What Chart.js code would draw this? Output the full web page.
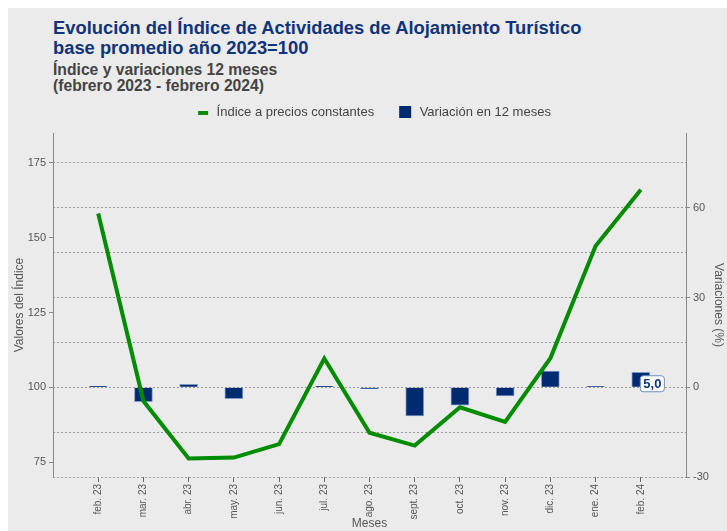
<!DOCTYPE html>
<html lang="es">
<head>
<meta charset="utf-8">
<title>Índice de Actividades de Alojamiento Turístico</title>
<script src="https://cdn.jsdelivr.net/npm/chart.js@4.4.1/dist/chart.umd.min.js"></script>
<style>
  html, body { margin: 0; padding: 0; background: #fff; }
  body { width: 727px; height: 531px; overflow: hidden; position: relative; }
  .panel {
    position: absolute; left: 8px; top: 8px; width: 719px; height: 523px;
    background: #ebebeb; font-family: "Liberation Sans", Arial, sans-serif;
  }
  .titulo {
    position: absolute; left: 45px; top: 10px; margin: 0;
    font-size: 18.35px; line-height: 20px; font-weight: bold; color: #0f3479;
  }
  .subtitulo {
    position: absolute; left: 45px; top: 54px; margin: 0;
    font-size: 15.7px; line-height: 16px; font-weight: bold; color: #444;
  }
  .grafico { position: absolute; left: 0; top: 85px; width: 719px; height: 438px; }
</style>
</head>
<body>
<div class="panel">
  <h1 class="titulo">Evolución del Índice de Actividades de Alojamiento Turístico<br>base promedio año 2023=100</h1>
  <h2 class="subtitulo">Índice y variaciones 12 meses<br>(febrero 2023 - febrero 2024)</h2>
  <div class="grafico"><canvas id="grafico"></canvas></div>
</div>

<script>
// datos
const meses = ['feb. 23', 'mar. 23', 'abr. 23', 'may. 23', 'jun. 23', 'jul. 23', 'ago. 23',
               'sept. 23', 'oct. 23', 'nov. 23', 'dic. 23', 'ene. 24', 'feb. 24'];
const indice = [158.1, 95.4, 76.2, 76.5, 81.0, 109.6, 84.8, 80.5, 93.3, 88.4, 109.7, 147.2, 166.0];
const variacion = [0.4, -4.8, 1.0, -3.8, 0.0, 0.4, -0.5, -9.6, -6.0, -2.9, 5.4, 0.3, 5.0];

const ticksIndice = [75, 100, 125, 150, 175];
const ticksVariacion = [-30, -15, 0, 15, 30, 45, 60, 75];

const VERDE = '#008c00';
const AZUL = '#002b70';
const FUENTE = '"Liberation Sans", Arial, sans-serif';

// iconos de la leyenda
function icono(x, y, w, h, color) {
  const c = document.createElement('canvas');
  c.width = 26; c.height = 13;
  const g = c.getContext('2d');
  g.fillStyle = color;
  g.fillRect(x, y, w, h);
  return c;
}
const iconos = [icono(14, 5, 10, 4, VERDE), icono(12, 0, 12, 12, AZUL)];

// recuadro con el valor del ultimo mes
const etiquetaFinal = {
  id: 'etiquetaFinal',
  afterDatasetsDraw(chart) {
    const i = variacion.length - 1;
    const bar = chart.getDatasetMeta(1).data[i];
    const y0 = chart.scales.y1.getPixelForValue(0);
    const txt = variacion[i].toFixed(1).replace('.', ',');
    const ctx = chart.ctx;
    ctx.save();
    ctx.font = 'bold 13px ' + FUENTE;
    const w = ctx.measureText(txt).width + 6;
    const x = bar.x - 1, y = y0 - 12;
    ctx.beginPath();
    ctx.roundRect(x + 0.5, y + 0.5, w, 16, 3);
    ctx.fillStyle = '#fff';
    ctx.fill();
    ctx.strokeStyle = '#6a8cc0';
    ctx.lineWidth = 1;
    ctx.stroke();
    ctx.fillStyle = '#0f3479';
    ctx.textBaseline = 'middle';
    ctx.fillText(txt, x + 3.5, y + 9);
    ctx.restore();
  }
};

// un poco mas de aire bajo la leyenda
const espacioLeyenda = {
  id: 'espacioLeyenda',
  beforeInit(chart) {
    const fit = chart.legend.fit;
    chart.legend.fit = function () {
      fit.call(this);
      this.height += 4;
    };
  }
};

new Chart(document.getElementById('grafico'), {
  data: {
    datasets: [
      {
        type: 'line',
        label: 'Índice a precios constantes',
        data: indice.map((v, i) => ({ x: i, y: v })),
        borderColor: VERDE,
        backgroundColor: VERDE,
        borderWidth: 4,
        pointRadius: 0,
        tension: 0,
        yAxisID: 'y',
        order: 0,
      },
      {
        type: 'bar',
        label: 'Variación en 12 meses',
        data: variacion.map((v, i) => ({ x: i, y: v })),
        backgroundColor: AZUL,
        borderColor: '#7f98c6',
        borderWidth: 1,
        barThickness: 18,
        yAxisID: 'y1',
        order: 1,
      }
    ]
  },
  options: {
    responsive: true,
    maintainAspectRatio: false,
    animation: false,
    layout: { padding: 0 },
    plugins: {
      legend: {
        labels: {
          font: { family: FUENTE, size: 13 },
          color: '#444',
          padding: 13,
          usePointStyle: true,
          pointStyleWidth: 26,
          generateLabels(chart) {
            const items = Chart.defaults.plugins.legend.labels.generateLabels(chart);
            items.forEach((it, i) => { it.pointStyle = iconos[i]; });
            return items;
          }
        }
      },
      tooltip: { enabled: false },
    },
    scales: {
      x: {
        type: 'linear',
        min: -1,
        max: 13,
        offset: false,
        afterBuildTicks: (scale) => { scale.ticks = meses.map((m, i) => ({ value: i })); },
        afterFit: (scale) => { scale.height = 54; },
        ticks: {
          autoSkip: false,
          maxRotation: 90,
          minRotation: 90,
          padding: 2,
          font: { family: FUENTE, size: 10 },
          color: '#555',
          callback: (v) => meses[v],
        },
        grid: { offset: false, drawOnChartArea: false, tickLength: 5, tickColor: '#666' },
        border: { display: false },
        title: {
          display: true, text: 'Meses', color: '#555',
          font: { family: FUENTE, size: 12 }, padding: { top: 0, bottom: 0 }
        },
      },
      y: {
        position: 'left',
        min: 70,
        max: 185,
        afterBuildTicks: (scale) => { scale.ticks = ticksIndice.map(v => ({ value: v })); },
        afterFit: (scale) => { scale.width = 45; },
        ticks: { font: { family: FUENTE, size: 11 }, color: '#555', padding: 3 },
        grid: { drawOnChartArea: false, tickLength: 4, tickColor: '#888' },
        border: { color: '#888', width: 1 },
        title: {
          display: true, text: 'Valores del Índice', color: '#555',
          font: { family: FUENTE, size: 12 }
        },
      },
      y1: {
        position: 'right',
        min: -30,
        max: 85,
        afterBuildTicks: (scale) => { scale.ticks = ticksVariacion.map(v => ({ value: v })); },
        afterFit: (scale) => { scale.width = 41; },
        ticks: {
          font: { family: FUENTE, size: 11 }, color: '#555', padding: 3,
          callback: (v) => (v % 30 === 0 ? v : ''),
        },
        grid: {
          color: '#9a9a9a',
          lineWidth: 1,
          tickLength: 4,
          tickColor: (ctx) => (ctx.tick && ctx.tick.value % 30 === 0 ? '#888' : 'rgba(0,0,0,0)'),
        },
        border: { color: '#888', width: 1, dash: [2, 2] },
        title: {
          display: true, text: 'Variaciones (%)', color: '#555',
          font: { family: FUENTE, size: 12 }, padding: { top: 1, bottom: 1 }
        },
      },
    }
  },
  plugins: [etiquetaFinal, espacioLeyenda]
});
</script>
</body>
</html>
